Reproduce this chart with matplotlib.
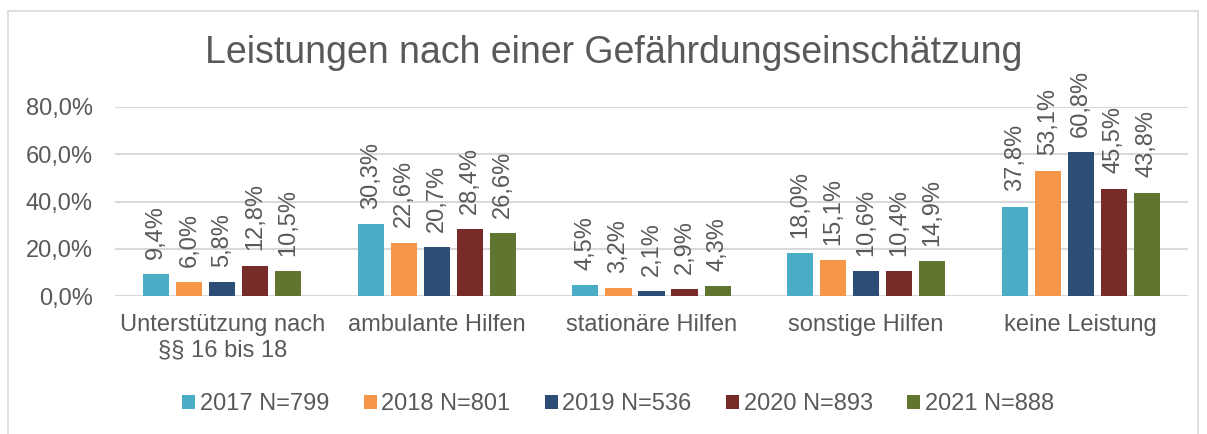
import numpy as np
import matplotlib.pyplot as plt
from matplotlib.patches import Rectangle

plt.rcParams['font.family'] = ['Liberation Sans', 'DejaVu Sans']

categories = ["Unterstützung nach\n§§ 16 bis 18", "ambulante Hilfen",
              "stationäre Hilfen", "sonstige Hilfen", "keine Leistung"]
series = ["2017 N=799", "2018 N=801", "2019 N=536", "2020 N=893", "2021 N=888"]
v2017 = [9.4, 30.3, 4.5, 18.0, 37.8]
v2018 = [6.0, 22.6, 3.2, 15.1, 53.1]
v2019 = [5.8, 20.7, 2.1, 10.6, 60.8]
v2020 = [12.8, 28.4, 2.9, 10.4, 45.5]
v2021 = [10.5, 26.6, 4.3, 14.9, 43.8]
values = [v2017, v2018, v2019, v2020, v2021]
colors = ["#4BACC6", "#F79646", "#2C4D75", "#772C2A", "#5F7530"]

txt = "#595959"
fs = 17
fig = plt.figure(figsize=(12.07, 4.34), dpi=100)
# outer chart border
fig.patches.append(Rectangle((8/1207, -0.01), 1190/1207, (434-11)/434 + 0.01,
                             transform=fig.transFigure, fill=False,
                             edgecolor="#D9D9D9", linewidth=1.2))
ax = fig.add_axes([115/1207, 1 - 296/434, (1188-115)/1207, (296-107)/434])

x = np.arange(len(categories))
step = 0.154
w = 0.122
for i, (vals, c, lab) in enumerate(zip(values, colors, series)):
    pos = x + (i - 2) * step
    ax.bar(pos, vals, width=w, color=c, label=lab, zorder=3)
    for p, v in zip(pos, vals):
        ax.annotate(f"{v:.1f}%".replace(".", ","), (p, v), xytext=(0, 11),
                    textcoords="offset points", rotation=90,
                    ha="center", va="bottom", fontsize=fs, color=txt)

ax.set_xlim(-0.5, 4.5)
ax.set_ylim(0, 80)
ax.set_yticks([0, 20, 40, 60, 80])
ax.set_yticklabels([f"{t:.1f}%".replace(".", ",") for t in [0, 20, 40, 60, 80]])
ax.set_xticks(x)
ax.set_xticklabels(categories)
ax.tick_params(axis="both", length=0, labelsize=fs, colors=txt)
ax.tick_params(axis="y", pad=16)
ax.tick_params(axis="x", pad=13)
ax.grid(axis="y", color="#D9D9D9", linewidth=1.5, zorder=0)
for s in ax.spines.values():
    s.set_visible(False)
ax.set_facecolor("none")

fig.text(614/1207, 1 - 53/434, "Leistungen nach einer Gefährdungseinschätzung",
         ha="center", va="center", fontsize=27, color=txt)

fig.legend(loc="center", bbox_to_anchor=(618/1207, 1 - 404/434), ncol=5,
           frameon=False, fontsize=fs, labelcolor=txt, handlelength=0.55,
           handleheight=0.55, handletextpad=0.2, columnspacing=1.45)

fig.savefig("out.png", dpi=100)
